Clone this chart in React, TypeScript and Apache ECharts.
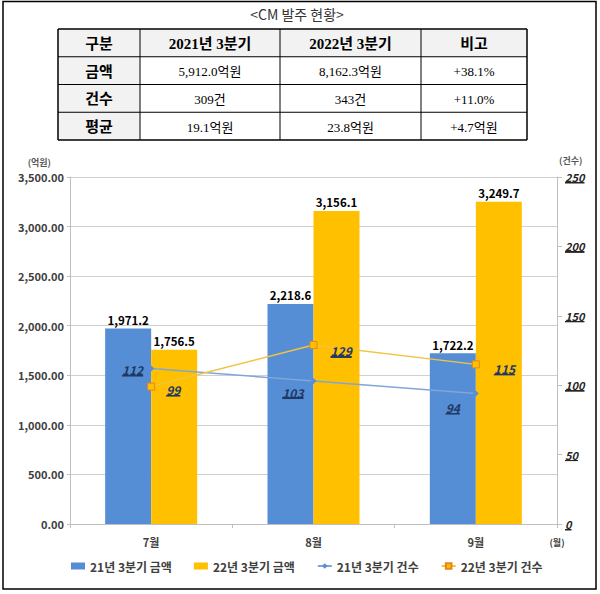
import React, { useEffect, useRef } from 'react';
import * as echarts from 'echarts';

// ---- chart data ----
const months = ['7월', '8월', '9월'];
const amount2021 = [1971.2, 2218.6, 1722.2];
const amount2022 = [1756.5, 3156.1, 3249.7];
const count2021 = [112, 103, 94];
const count2022 = [99, 129, 115];
const seriesNames = ['21년 3분기 금액', '22년 3분기 금액', '21년 3분기 건수', '22년 3분기 건수'];
const leftAxisRange = [0, 3500, 500];
const rightAxisRange = [0, 250, 50];
const leftAxisUnit = '(억원)';
const rightAxisUnit = '(건수)';
const xAxisUnit = '(월)';

// ---- table data ----
const chartTitle = '<CM 발주 현황>';
const tableHeader = ['구분', '2021년 3분기', '2022년 3분기', '비고'];
const tableRowLabels = ['금액', '건수', '평균'];
const table2021 = ['5,912.0억원', '309건', '19.1억원'];
const table2022 = ['8,162.3억원', '343건', '23.8억원'];
const tableDiff = ['+38.1%', '+11.0%', '+4.7억원'];

const SANS = "'Noto Sans CJK KR', 'Open Sans', sans-serif";
const SERIF = "'Liberation Serif', 'Noto Sans CJK KR', serif";

function underline(color: string) {
  return new echarts.graphic.LinearGradient(0, 0, 0, 1, [
    { offset: 0, color: 'rgba(0,0,0,0)' },
    { offset: 0.88, color: 'rgba(0,0,0,0)' },
    { offset: 0.88, color },
    { offset: 1, color },
  ]);
}

function fmt(v: number, d: number) {
  return v.toLocaleString('en-US', { minimumFractionDigits: d, maximumFractionDigits: d });
}

function txt(x: number, y: number, text: string, font: string, fill = '#000', align = 'center') {
  return {
    type: 'text',
    x,
    y,
    style: {
      text,
      font,
      fill,
      align,
      textAlign: align,
      verticalAlign: 'middle',
      textVerticalAlign: 'middle',
    },
  };
}

function buildGraphic() {
  const els: any[] = [];
  els.push({
    type: 'rect',
    shape: { x: 3, y: 1.5, width: 593, height: 587.5 },
    style: { fill: 'none', stroke: '#000', lineWidth: 1.5 },
  });
  els.push(txt(297, 14, chartTitle, `14px ${SANS}`, '#333'));
  const cols = [58, 140, 280, 421, 527];
  const rowH = (140 - 29) / 4;
  const rows = [0, 1, 2, 3, 4].map((i) => 29 + i * rowH);
  els.push({
    type: 'rect',
    shape: { x: cols[0], y: rows[0], width: cols[4] - cols[0], height: rowH },
    style: { fill: '#F2F2F2' },
  });
  els.push({
    type: 'rect',
    shape: { x: cols[0], y: rows[1], width: cols[1] - cols[0], height: rowH * 3 },
    style: { fill: '#F2F2F2' },
  });
  rows.forEach((y, i) => {
    els.push({
      type: 'line',
      shape: { x1: cols[0], y1: y, x2: cols[4], y2: y },
      style: { stroke: '#000', lineWidth: i === 0 || i === 4 ? 1.5 : 1 },
    });
  });
  cols.forEach((x, i) => {
    els.push({
      type: 'line',
      shape: { x1: x, y1: rows[0], x2: x, y2: rows[4] },
      style: { stroke: '#000', lineWidth: i === 0 || i === 4 ? 1.5 : 1 },
    });
  });
  const cx = (i: number) => (cols[i] + cols[i + 1]) / 2;
  const cy = (j: number) => rows[j] + rowH / 2 + 1;
  tableHeader.forEach((h, i) => els.push(txt(cx(i), cy(0), h, `bold 15px ${SERIF}`)));
  tableRowLabels.forEach((r, j) => {
    els.push(txt(cx(0), cy(j + 1), r, `bold 15px ${SERIF}`));
    els.push(txt(cx(1), cy(j + 1), table2021[j], `13px ${SERIF}`));
    els.push(txt(cx(2), cy(j + 1), table2022[j], `13px ${SERIF}`));
    els.push(txt(cx(3), cy(j + 1), tableDiff[j], `13px ${SERIF}`));
  });
  return els;
}

export default function App() {
  const ref = useRef<HTMLDivElement>(null);
  useEffect(() => {
    if (!ref.current) return;
    const chart = echarts.init(ref.current, undefined, { renderer: 'svg' });
    const labelColor = '#1F3864';
    const lineLabelBase = {
      show: true,
      fontStyle: 'italic',
      fontWeight: 'bold',
      fontSize: 12,
      fontFamily: SANS,
      color: labelColor,
      lineHeight: 14,
      backgroundColor: underline(labelColor),
      padding: [0, 0, 0, 0],
    };
    const pos21: any[] = [
      { position: 'left', distance: 5, offset: [0, 1] },
      { position: 'left', distance: 5, offset: [-2, 11] },
      { position: 'left', distance: 5, offset: [-8, 14] },
    ];
    const pos22: any[] = [
      { position: 'right', distance: 5, offset: [6, 3] },
      { position: 'right', distance: 5, offset: [8, 6] },
      { position: 'right', distance: 5, offset: [9, 4] },
    ];
    const axisLabelStyle = {
      fontFamily: SANS,
      fontWeight: 'bold',
      fontSize: 11,
      color: '#404040',
    };
    const barLabel = {
      show: true,
      position: 'top',
      distance: 3,
      fontFamily: SANS,
      fontWeight: 'bold',
      fontSize: 11.5,
      color: '#000',
      formatter: (p: any) => fmt(p.value, 1),
    };
    chart.setOption({
      animation: false,
      backgroundColor: '#fff',
      graphic: buildGraphic(),
      grid: { left: 70, right: 43, top: 177, bottom: 70, containLabel: false },
      legend: {
        left: 66,
        top: 555,
        itemWidth: 14,
        itemHeight: 7,
        itemGap: 22,
        textStyle: { fontFamily: SANS, fontWeight: 'bold', fontSize: 12, color: '#404040' },
        data: [
          { name: seriesNames[0], icon: 'rect' },
          { name: seriesNames[1], icon: 'rect' },
          { name: seriesNames[2] },
          { name: seriesNames[3] },
        ],
      },
      xAxis: {
        type: 'category',
        data: months,
        name: xAxisUnit,
        nameLocation: 'end',
        nameGap: 0,
        nameTextStyle: {
          fontFamily: SANS,
          fontWeight: 'bold',
          fontSize: 9,
          color: '#404040',
          align: 'center',
          verticalAlign: 'top',
          padding: [14, 0, 0, 0],
        },
        axisLine: { show: true, lineStyle: { color: '#BFBFBF', width: 1 } },
        axisTick: { show: true, length: 4, lineStyle: { color: '#BFBFBF' } },
        axisLabel: { ...axisLabelStyle, margin: 12 },
        splitLine: { show: false },
      },
      yAxis: [
        {
          type: 'value',
          min: leftAxisRange[0],
          max: leftAxisRange[1],
          interval: leftAxisRange[2],
          name: leftAxisUnit,
          nameLocation: 'end',
          nameGap: 10,
          nameTextStyle: {
            fontFamily: SANS,
            fontWeight: 'bold',
            fontSize: 9,
            color: '#595959',
            align: 'right',
            padding: [0, 19, 0, 0],
          },
          axisLine: { show: true, lineStyle: { color: '#BFBFBF' } },
          axisTick: { show: true, length: 3, lineStyle: { color: '#BFBFBF' } },
          axisLabel: { ...axisLabelStyle, margin: 6, formatter: (v: number) => fmt(v, 2) },
          splitLine: { show: true, lineStyle: { color: '#D0D0D0', width: 1 } },
        },
        {
          type: 'value',
          min: rightAxisRange[0],
          max: rightAxisRange[1],
          interval: rightAxisRange[2],
          position: 'right',
          name: rightAxisUnit,
          nameLocation: 'end',
          nameGap: 12,
          nameTextStyle: {
            fontFamily: SANS,
            fontWeight: 'bold',
            fontSize: 9,
            color: '#595959',
            align: 'left',
            padding: [0, 0, 0, 2],
          },
          axisLine: { show: true, lineStyle: { color: '#BFBFBF' } },
          axisTick: { show: true, length: 5, lineStyle: { color: '#BFBFBF' } },
          axisLabel: {
            fontFamily: SANS,
            fontWeight: 'bold',
            fontStyle: 'italic',
            fontSize: 11,
            color: '#262626',
            margin: 8,
            lineHeight: 13,
            backgroundColor: underline('#262626'),
          },
          splitLine: { show: false },
        },
      ],
      series: [
        {
          name: seriesNames[0],
          type: 'bar',
          data: amount2021,
          barWidth: 46,
          barGap: '0%',
          itemStyle: { color: '#558ED5' },
          label: barLabel,
          z: 2,
        },
        {
          name: seriesNames[1],
          type: 'bar',
          data: amount2022,
          barWidth: 46,
          barGap: '0%',
          itemStyle: { color: '#FFC000' },
          label: barLabel,
          z: 2,
        },
        {
          name: seriesNames[2],
          type: 'line',
          yAxisIndex: 1,
          data: count2021.map((v, i) => ({ value: v, label: pos21[i] })),
          symbol: 'diamond',
          symbolSize: 6,
          lineStyle: { color: '#7FA6D8', width: 1.5 },
          itemStyle: { color: '#5B8ED6' },
          label: lineLabelBase,
          z: 5,
        },
        {
          name: seriesNames[3],
          type: 'line',
          yAxisIndex: 1,
          data: count2022.map((v, i) => ({ value: v, label: pos22[i] })),
          symbol: 'rect',
          symbolSize: 7,
          lineStyle: { color: '#F2C342', width: 1.5 },
          itemStyle: { color: '#FFC000', borderColor: '#E3871C', borderWidth: 1 },
          label: lineLabelBase,
          z: 5,
        },
      ],
    });
    return () => chart.dispose();
  }, []);
  return (
    <div
      ref={ref}
      style={{ position: 'absolute', left: 0, top: 0, width: 600, height: 594 }}
    />
  );
}
